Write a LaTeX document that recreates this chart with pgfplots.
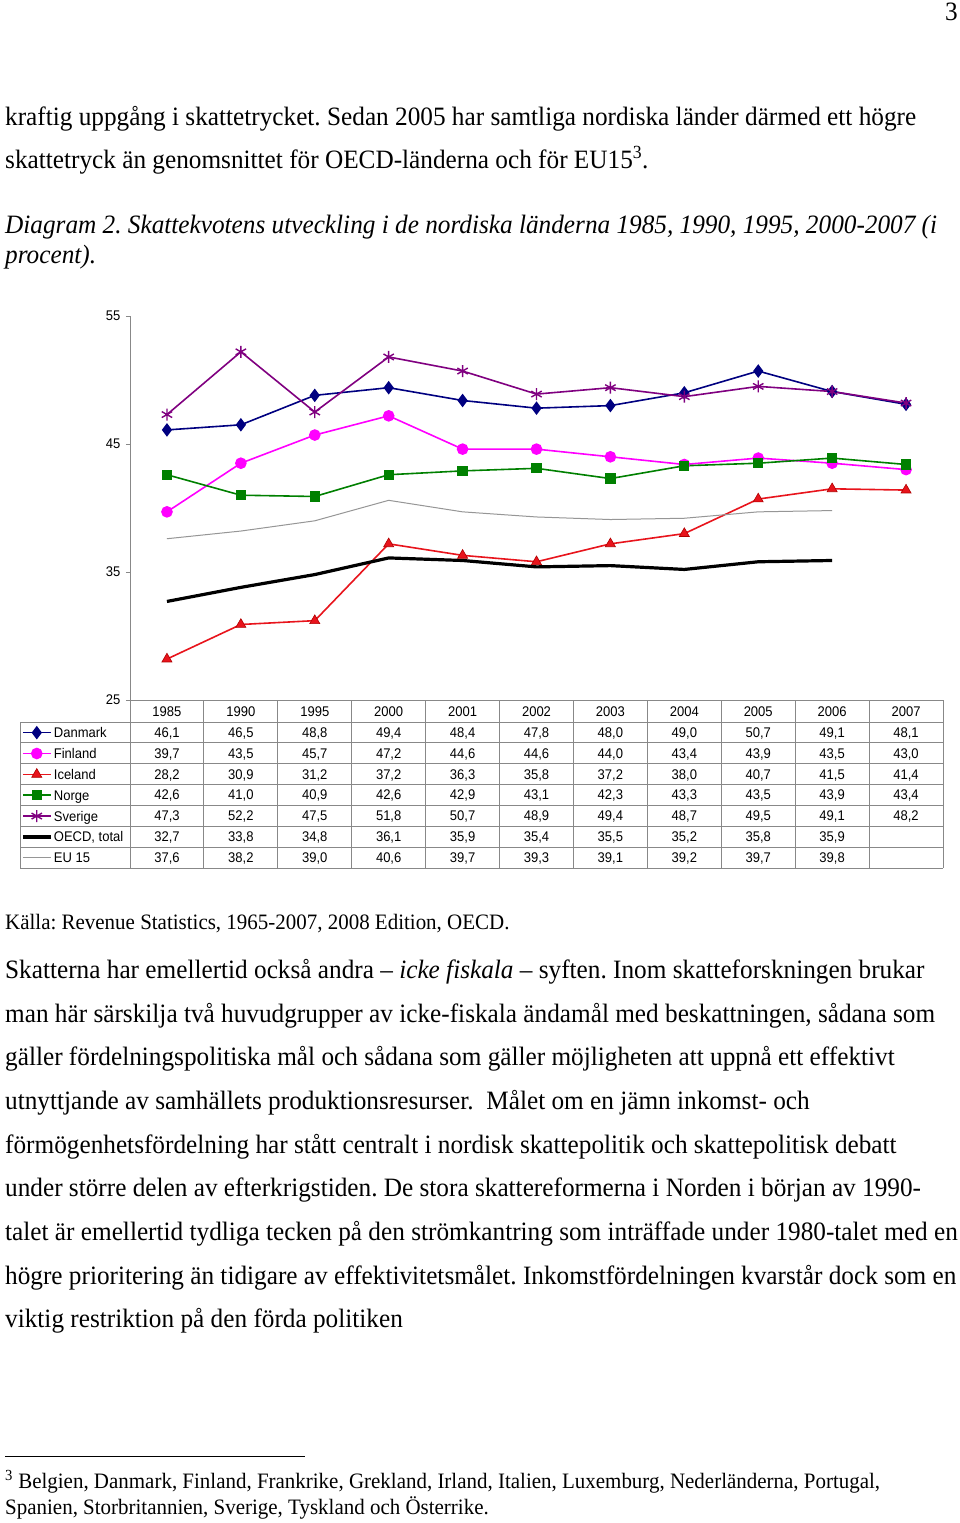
\documentclass[border=0pt]{standalone}
\usepackage{fontspec}
\setmainfont{Liberation Serif}[FakeStretch=0.953]
\newfontfamily\arial{Liberation Sans}[FakeStretch=0.93]
\usepackage{pgfplots}
\usepackage{pgfplotstable}
\pgfplotsset{compat=1.18}
\frenchspacing

\definecolor{dkc}{HTML}{000080}
\definecolor{fic}{HTML}{FF00FF}
\definecolor{isc}{HTML}{E8141C}
\definecolor{isd}{HTML}{B00000}
\definecolor{noc}{HTML}{008000}
\definecolor{sec}{HTML}{800080}
\definecolor{euc}{HTML}{969696}
\definecolor{axisgray}{HTML}{888888}

\pgfplotstableread{
x year dk fi is no se oecd eu
0 1985 46.1 39.7 28.2 42.6 47.3 32.7 37.6
1 1990 46.5 43.5 30.9 41.0 52.2 33.8 38.2
2 1995 48.8 45.7 31.2 40.9 47.5 34.8 39.0
3 2000 49.4 47.2 37.2 42.6 51.8 36.1 40.6
4 2001 48.4 44.6 36.3 42.9 50.7 35.9 39.7
5 2002 47.8 44.6 35.8 43.1 48.9 35.4 39.3
6 2003 48.0 44.0 37.2 42.3 49.4 35.5 39.1
7 2004 49.0 43.4 38.0 43.3 48.7 35.2 39.2
8 2005 50.7 43.9 40.7 43.5 49.5 35.8 39.7
9 2006 49.1 43.5 41.5 43.9 49.1 35.9 39.8
10 2007 48.1 43.0 41.4 43.4 48.2 nan nan
}\data

\newcommand{\bodyfont}{\fontsize{26.5}{30}\selectfont}
\newcommand{\smallfont}{\fontsize{22}{24}\selectfont}
\newcommand{\tabfont}{\arial\fontsize{14}{16}\selectfont}

\begin{document}
\begin{tikzpicture}
\path[use as bounding box] (0pt,0pt) rectangle (960pt,-1523pt);
\fill[white] (0pt,0pt) rectangle (960pt,-1523pt);

% page number
\node[anchor=base east,inner sep=0pt,font=\bodyfont] at (958pt,-20pt) {3};

% text above
\begin{scope}[every node/.style={anchor=base west,inner sep=0pt,font=\bodyfont}]
\node at (5pt,-125pt) {kraftig uppgång i skattetrycket. Sedan 2005 har samtliga nordiska länder därmed ett högre};
\node at (5pt,-168pt) {skattetryck än genomsnittet för OECD-länderna och för EU15\textsuperscript{3}.};
\node at (5pt,-233pt) {\itshape Diagram 2. Skattekvotens utveckling i de nordiska länderna 1985, 1990, 1995, 2000-2007 (i};
\node at (5pt,-263pt) {\itshape procent).};
\node[font=\smallfont] at (5pt,-929pt) {Källa: Revenue Statistics, 1965-2007, 2008 Edition, OECD.};
\node at (5pt,-978pt) {Skatterna har emellertid också andra -- \textit{icke fiskala} -- syften. Inom skatteforskningen brukar};
\node at (5pt,-1022pt) {man här särskilja två huvudgrupper av icke-fiskala ändamål med beskattningen, sådana som};
\node at (5pt,-1065pt) {gäller fördelningspolitiska mål och sådana som gäller möjligheten att uppnå ett effektivt};
\node at (5pt,-1109pt) {utnyttjande av samhällets produktionsresurser.\ \ Målet om en jämn inkomst- och};
\node at (5pt,-1153pt) {förmögenhetsfördelning har stått centralt i nordisk skattepolitik och skattepolitisk debatt};
\node at (5pt,-1196pt) {under större delen av efterkrigstiden. De stora skattereformerna i Norden i början av 1990-};
\node at (5pt,-1240pt) {talet är emellertid tydliga tecken på den strömkantring som inträffade under 1980-talet med en};
\node at (5pt,-1284pt) {högre prioritering än tidigare av effektivitetsmålet. Inkomstfördelningen kvarstår dock som en};
\node at (5pt,-1327pt) {viktig restriktion på den förda politiken};
\node[font=\smallfont] at (5pt,-1488pt) {\textsuperscript{3} Belgien, Danmark, Finland, Frankrike, Grekland, Irland, Italien, Luxemburg, Nederländerna, Portugal,};
\node[font=\smallfont] at (5pt,-1514pt) {Spanien, Storbritannien, Sverige, Tyskland och Österrike.};
\end{scope}
\draw[line width=1pt] (5pt,-1456pt) -- (305pt,-1456pt);

% table grid
\begin{scope}[draw=axisgray,line width=0.9pt]
\draw (130pt,-700pt) -- (943pt,-700pt);
\foreach \i in {0,...,7}{
  \pgfmathsetmacro\ly{722+20.86*\i}
  \draw (20pt,-\ly pt) -- (943pt,-\ly pt);
}
\draw (20pt,-722pt) -- (20pt,-868pt);
\foreach \k in {0,...,11}{
  \pgfmathsetmacro\lx{130+73.91*\k}
  \draw (\lx pt,-700pt) -- (\lx pt,-868pt);
}
\end{scope}

% table numbers
\edef\nanstr{nan}
\foreach \r in {0,...,10}{
  \pgfmathsetmacro\cx{166.95+73.91*\r}
  \pgfplotstablegetelem{\r}{year}\of\data
  \edef\val{\pgfplotsretval}
  \node[anchor=base,inner sep=0pt,font=\tabfont] at (\cx pt,-716pt) {\val};
  \foreach \c [count=\i from 0] in {dk,fi,is,no,se,oecd,eu}{
    \pgfplotstablegetelem{\r}{\c}\of\data
    \edef\val{\pgfplotsretval}
    \ifx\val\nanstr\else
      \pgfmathsetmacro\cy{732.4+20.86*\i+5}
      \node[anchor=base,inner sep=0pt,font=\tabfont] at (\cx pt,-\cy pt)
        {\pgfmathprintnumber[fixed,fixed zerofill,precision=1,use comma,assume math mode=true]{\val}};
    \fi
  }
}

\begin{axis}[
  at={(130pt,-700pt)}, anchor=south west,
  scale only axis, width=813pt, height=384pt,
  xmin=-0.5, xmax=10.5, ymin=25, ymax=55,
  axis x line=none, axis y line*=left,
  y axis line style={draw=axisgray, line width=0.9pt},
  ytick={25,35,45,55}, xtick=\empty,
  ytick style={draw=axisgray, line width=0.9pt},
  tick align=outside, major tick length=4pt,
  yticklabel style={font=\tabfont, text=black, xshift=-2pt},
  /pgf/number format/assume math mode=true,
  clip=false,
  legend cell align=left,
  legend style={at={(axis description cs:-0.1341,-0.05729)}, anchor=north west,
    draw=none, fill=none, inner sep=0pt, row sep=0pt, font=\tabfont,
    nodes={inner ysep=0pt, inner xsep=1.5pt, text height=15.43pt, text depth=5.43pt}},
  legend image code/.code={\draw[mark repeat=2,mark phase=2,#1] plot coordinates {(0pt,0pt) (14pt,0pt) (28pt,0pt)};},
]
\addplot[color=dkc, line width=1.6pt, mark=diamond*, mark size=5.5pt, mark options={solid, fill=dkc}] table[x=x,y=dk]{\data};
\addplot[color=fic, line width=1.6pt, mark=*, mark size=5pt, mark options={solid, fill=fic}] table[x=x,y=fi]{\data};
\addplot[color=isc, line width=1.6pt, mark=triangle*, mark size=5.8pt, mark options={solid, fill=isc, draw=isd, line width=0.6pt}] table[x=x,y=is]{\data};
\addplot[color=noc, line width=1.6pt, mark=square*, mark size=4.3pt, mark options={solid, fill=noc}] table[x=x,y=no]{\data};
\addplot[color=sec, line width=1.6pt, mark=asterisk, mark size=6pt, mark options={solid, line width=1.4pt}] table[x=x,y=se]{\data};
\addplot[color=black, line width=3.2pt, mark=none] table[x=x,y=oecd]{\data};
\addplot[color=euc, line width=1pt, mark=none] table[x=x,y=eu]{\data};
\legend{Danmark,Finland,Iceland,Norge,Sverige,{OECD, total},EU 15}
\end{axis}
\end{tikzpicture}
\end{document}
